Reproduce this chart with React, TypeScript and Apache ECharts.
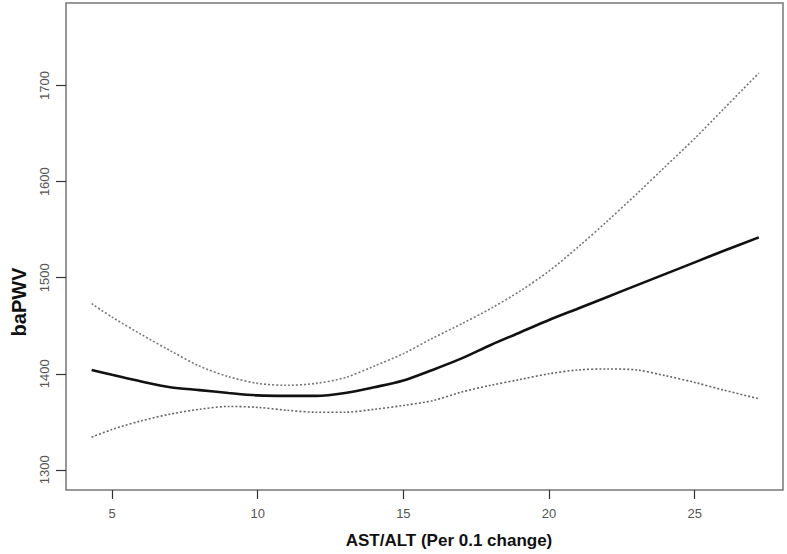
import React, { useEffect, useRef } from "react";
import * as echarts from "echarts";

const xValues = [4.3, 5, 6, 7, 8, 9, 10, 11, 12, 13, 14, 15, 16, 17, 18, 19, 20, 21, 22, 23, 24, 25, 26, 27.2];
const fitValues = [1404, 1399, 1392, 1386, 1383, 1380, 1377.5, 1377, 1377, 1380, 1386, 1393, 1404, 1416, 1430, 1443, 1456, 1468, 1480, 1492, 1504, 1516, 1528, 1542];
const upperValues = [1473, 1459, 1441, 1424, 1408, 1397, 1390, 1388, 1390, 1396, 1408, 1421, 1437, 1452, 1468, 1486, 1507, 1532, 1559, 1587, 1616, 1645, 1676, 1713];
const lowerValues = [1334, 1342, 1351, 1358, 1363, 1366, 1365, 1362, 1360, 1360, 1363, 1367, 1372, 1381, 1388, 1394, 1400, 1404, 1405, 1404, 1398, 1391, 1383, 1374];
const xTicks = [5, 10, 15, 20, 25];
const yTicks = [1300, 1400, 1500, 1600, 1700];
const xTitle = "AST/ALT (Per 0.1 change)";
const yTitle = "baPWV";

function pairs(ys: number[]) {
  return xValues.map((x, i) => [x, ys[i]]);
}

export default function App() {
  const ref = useRef<HTMLDivElement>(null);
  useEffect(() => {
    if (!ref.current) return;
    const chart = echarts.init(ref.current, null, { renderer: "svg" });
    const tickFont = { fontFamily: "Liberation Sans", fontSize: 13, color: "#555" };
    chart.setOption({
      animation: false,
      backgroundColor: "#fff",
      grid: {
        left: 66,
        right: 4,
        top: 3,
        bottom: 64,
        show: true,
        borderColor: "#777",
        borderWidth: 1.5,
        backgroundColor: "transparent",
      },
      xAxis: {
        type: "value",
        min: 3.42,
        max: 28.03,
        splitLine: { show: false },
        axisLine: { show: false },
        axisTick: { show: true, length: 9, customValues: xTicks, lineStyle: { color: "#333", width: 1.2 } },
        axisLabel: { ...tickFont, margin: 17, customValues: xTicks, formatter: (v: number) => String(v) },
      },
      yAxis: {
        type: "value",
        min: 1279,
        max: 1786,
        splitLine: { show: false },
        axisLine: { show: false },
        axisTick: { show: true, length: 10, customValues: yTicks, lineStyle: { color: "#333", width: 1.2 } },
        axisLabel: { ...tickFont, margin: 15, rotate: 90, customValues: yTicks, formatter: (v: number) => String(v) },
      },
      graphic: [
        {
          type: "text",
          x: 449,
          y: 540,
          style: {
            text: xTitle,
            font: "bold 17px 'Liberation Sans'",
            fill: "#111",
            textAlign: "center",
            textVerticalAlign: "middle",
          },
        },
        {
          type: "text",
          x: 19,
          y: 302,
          rotation: Math.PI / 2,
          style: {
            text: yTitle,
            font: "bold 20px 'Liberation Sans'",
            fill: "#111",
            textAlign: "center",
            textVerticalAlign: "middle",
          },
        },
      ],
      series: [
        {
          type: "line",
          data: pairs(upperValues),
          smooth: 0.3,
          symbol: "none",
          lineStyle: { color: "#777", width: 1.6, type: [2, 2] },
        },
        {
          type: "line",
          data: pairs(lowerValues),
          smooth: 0.3,
          symbol: "none",
          lineStyle: { color: "#666", width: 1.6, type: [2, 2] },
        },
        {
          type: "line",
          data: pairs(fitValues),
          smooth: 0.3,
          symbol: "none",
          lineStyle: { color: "#111", width: 2.6 },
        },
      ],
    });
    return () => chart.dispose();
  }, []);
  return (
    <div
      ref={ref}
      style={{ position: "fixed", left: 0, top: 0, width: 787, height: 554, background: "#fff" }}
    />
  );
}
